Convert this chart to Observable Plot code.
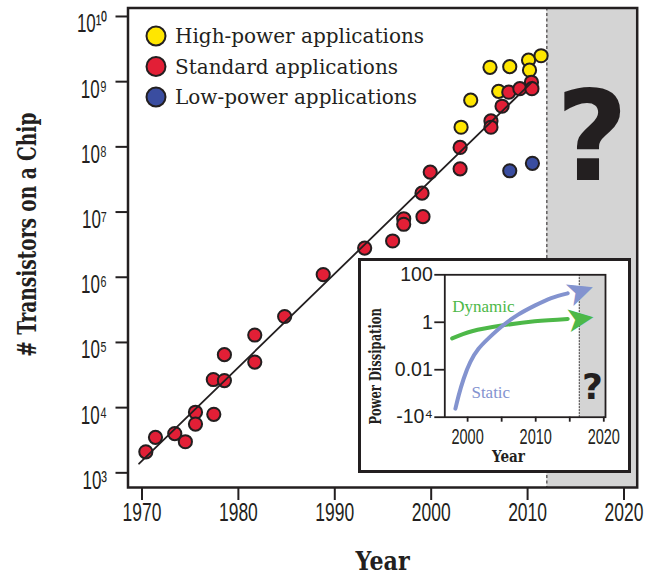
<!DOCTYPE html>
<html><head><meta charset="utf-8">
<script src="https://cdn.jsdelivr.net/npm/d3@7"></script>
<script src="https://cdn.jsdelivr.net/npm/@observablehq/plot@0.6"></script>
<style>
body{margin:0;background:#fff;}
#wrap{position:relative;width:647px;height:578px;overflow:hidden;}
#inset{position:absolute;left:358px;top:258px;width:267px;height:209px;border:3px solid #231F20;background:#fff;}
</style></head><body>
<div id="wrap"><div id="main"></div><div id="inset"></div></div>
<script>
// ---------- main chart data ----------
const highYears  = [2003.1, 2004.1, 2006.1, 2007.0, 2008.15, 2010.1, 2010.2, 2011.4];
const highCounts = [2.0e8, 5.2e8, 1.66e9, 7.1e8, 1.7e9, 2.14e9, 1.5e9, 2.5e9];

const stdYears  = [1970.4, 1971.4, 1973.4, 1974.5, 1975.55, 1975.55, 1977.45, 1977.4, 1978.55, 1978.55,
                   1981.7, 1981.7, 1984.8, 1988.8, 1993.1, 1996.0, 1997.15, 1997.15, 1999.15, 1999.05,
                   1999.9, 2003.0, 2003.0, 2006.2, 2006.2, 2007.35, 2008.05, 2009.2, 2010.4, 2010.45];
const stdCounts = [2.1e3, 3.5e3, 4.0e3, 3.0e3, 8.5e3, 5.6e3, 7.9e3, 2.7e4, 2.6e4, 6.5e4,
                   1.3e5, 5.0e4, 2.5e5, 1.1e6, 2.8e6, 3.6e6, 7.9e6, 6.5e6, 8.5e6, 1.95e7,
                   4.1e7, 9.8e7, 4.6e7, 2.5e8, 2.0e8, 4.2e8, 6.9e8, 7.8e8, 9.8e8, 7.8e8];

const lowYears  = [2008.15, 2010.5];
const lowCounts = [4.3e7, 5.6e7];

const trendYears  = [1969.7, 2010.5];
const trendCounts = [1.38e3, 1.0e9];

const seriesNames = ["High-power applications", "Standard applications", "Low-power applications"];
const seriesColors = ["#FFE600", "#E21F36", "#3A4DA0"];

const xTickValues = [1970, 1980, 1990, 2000, 2010, 2020];
const yTickValues = [1e3, 1e4, 1e5, 1e6, 1e7, 1e8, 1e9, 1e10];
const yTickLabels = ["10³", "10⁴", "10⁵", "10⁶", "10⁷", "10⁸", "10⁹", "10¹⁰"];
const xLabel = "Year";
const yLabel = "# Transistors on a Chip";
const futureStart = 2012;
const xDomain = [1968.55, 2021.37];
const yDomain = [Math.pow(10, 2.775), Math.pow(10, 10.13)];

// ---------- inset data ----------
const dynamicName = "Dynamic";
const dynamicYears = [1997.73, 2000.64, 2005.0, 2009.85, 2014.7];
const dynamicPower = [1.66, 1.81, 1.93, 2.02, 2.07];   // position on inset axis (0 = -10^4 ... 3 = 100)
const staticName = "Static";
const staticYears = [1998.21, 1998.69, 1999.42, 2000.39, 2001.6, 2003.06, 2005.0, 2007.42, 2009.85, 2012.28, 2014.7];
const staticPower = [0.18, 0.46, 0.81, 1.16, 1.44, 1.66, 1.91, 2.16, 2.35, 2.51, 2.61];
const insetXTicks = [2000, 2005, 2010, 2015, 2020];
const insetXTickLabels = ["2000", "", "2010", "", "2020"];
const insetYTicks = [0, 1, 2, 3];
const insetYTickLabels = ["-10⁴", "0.01", "1", "100"];
const insetXLabel = "Year";
const insetYLabel = "Power Dissipation";
const insetFutureStart = 2016.4;
const insetXDomain = [1996.65, 2020.25];
const insetYDomain = [0, 3];

const ink = "#231F20";
const grey = "#D4D4D4";
const green = "#4DB848";
const lavender = "#8393CF";

const zip = (xs, ys, kx, ky) => xs.map((v, i) => ({[kx]: v, [ky]: ys[i]}));
const high = zip(highYears, highCounts, "year", "count");
const std = zip(stdYears, stdCounts, "year", "count");
const low = zip(lowYears, lowCounts, "year", "count");
const trend = zip(trendYears, trendCounts, "year", "count");

function squeeze(nodes, sx) {
  nodes.forEach(t => {
    const tr = t.getAttribute("transform");
    if (tr) t.setAttribute("transform", tr + ` scale(${sx},1)`);
    else {
      const x = +t.getAttribute("x") || 0, y = +t.getAttribute("y") || 0;
      t.removeAttribute("x"); t.removeAttribute("y");
      t.setAttribute("transform", `translate(${x},${y}) scale(${sx},1)`);
    }
  });
}
function textsMatching(svg, fn) {
  return Array.from(svg.querySelectorAll("text")).filter(t => fn(t.textContent));
}

const dotStyle = {x: "year", y: "count", r: 6.6, stroke: ink, strokeWidth: 2};

const main = Plot.plot({
  width: 647, height: 578,
  marginLeft: 127.5, marginRight: 10.3, marginTop: 7.5, marginBottom: 91,
  style: {fontFamily: "Liberation Sans, Arial, sans-serif", color: ink, background: "white"},
  x: {domain: xDomain, label: null},
  y: {type: "log", domain: yDomain, label: null},
  marks: [
    Plot.rect([futureStart], {x1: d => d, x2: xDomain[1], fill: grey}),
    Plot.ruleX([futureStart], {stroke: ink, strokeWidth: 1, strokeDasharray: "3,2.5"}),
    Plot.frame({stroke: ink, strokeWidth: 2.5}),
    Plot.axisX({ticks: xTickValues, tickFormat: d => String(d), tickSize: 13, tickPadding: 3, fontSize: 25, strokeWidth: 2, label: null}),
    Plot.axisY({ticks: yTickValues, tickFormat: () => "", tickSize: 12, strokeWidth: 2, label: null}),
    Plot.axisY({ticks: yTickValues, tickFormat: d => yTickLabels[yTickValues.indexOf(d)], tickSize: 0, tickPadding: 21, dy: 8, fontSize: 25, label: null}),
    Plot.dot(high, {...dotStyle, fill: seriesColors[0]}),
    Plot.dot(std, {...dotStyle, fill: seriesColors[1]}),
    Plot.dot(low, {...dotStyle, fill: seriesColors[2]}),
    Plot.line(trend, {x: "year", y: "count", stroke: ink, strokeWidth: 1.8}),
    Plot.text(["?"], {x: (futureStart + xDomain[1]) / 2, frameAnchor: "top", dy: 132, text: d => d,
      textAnchor: "middle", lineAnchor: "middle", fontSize: 125, fontWeight: "bold", fontFamily: "DejaVu Sans", fill: ink}),
    Plot.text([yLabel], {frameAnchor: "left", dx: -100.5, dy: -13, rotate: -90, text: d => d, textAnchor: "middle", lineAnchor: "middle",
      fontSize: 26.5, fontWeight: "bold", fontFamily: "DejaVu Serif", fill: ink}),
    Plot.text([xLabel], {frameAnchor: "bottom", dy: 74, text: d => d, textAnchor: "middle", lineAnchor: "middle",
      fontSize: 25.5, fontWeight: "bold", fontFamily: "DejaVu Serif", fill: ink})
  ]
});
document.getElementById("main").appendChild(main);

squeeze(textsMatching(main, s => /^\d{4}$/.test(s)), 0.7);
squeeze(textsMatching(main, s => /^10/.test(s)), 0.68);
squeeze(textsMatching(main, s => s === yLabel), 0.7);
squeeze(textsMatching(main, s => s === xLabel), 0.87);

// legend
const lg = d3.select(main).append("g").attr("text-anchor", "start");
seriesNames.forEach((name, i) => {
  const cy = 36 + i * 30.5;
  lg.append("circle").attr("cx", 156).attr("cy", cy).attr("r", 9.5)
    .attr("fill", seriesColors[i]).attr("stroke", ink).attr("stroke-width", 2);
  lg.append("text").attr("x", 175).attr("y", cy).attr("dy", "0.35em").attr("text-anchor", "start")
    .attr("font-family", "DejaVu Serif").attr("font-size", 20).attr("fill", ink).text(name);
});

// ---------- inset ----------
const dyn = zip(dynamicYears, dynamicPower, "year", "level");
const sta = zip(staticYears, staticPower, "year", "level");
const dynHead = [{year: 2016.5, level: 2.07, angle: -8}];
const staHead = [{year: 2016.5, level: 2.65, angle: -19}];

const inset = Plot.plot({
  width: 267, height: 209,
  marginLeft: 83.3, marginRight: 23, marginTop: 13.3, marginBottom: 53.3,
  style: {fontFamily: "Liberation Sans, Arial, sans-serif", color: ink, background: "white"},
  x: {domain: insetXDomain, label: null},
  y: {domain: insetYDomain, label: null},
  marks: [
    Plot.rect([insetFutureStart], {x1: d => d, x2: insetXDomain[1], fill: grey}),
    Plot.ruleX([insetFutureStart], {stroke: ink, strokeWidth: 1, strokeDasharray: "1.5,1.5"}),
    Plot.frame({stroke: ink, strokeWidth: 1.8}),
    Plot.axisX({ticks: insetXTicks, tickFormat: d => insetXTickLabels[insetXTicks.indexOf(d)], tickSize: 5, tickPadding: 6.5, fontSize: 22, strokeWidth: 1.8, label: null}),
    Plot.axisY({ticks: insetYTicks, tickFormat: d => insetYTickLabels[d], tickSize: 10, tickPadding: 2, fontSize: 19.5, strokeWidth: 1.8, label: null}),
    Plot.line(dyn, {x: "year", y: "level", curve: "natural", stroke: green, strokeWidth: 4}),
    Plot.line(sta, {x: "year", y: "level", curve: "natural", stroke: lavender, strokeWidth: 4}),
    Plot.text(dynHead, {x: "year", y: "level", rotate: "angle", text: () => "➤", fontSize: 36, fontFamily: "DejaVu Sans", fill: green}),
    Plot.text(staHead, {x: "year", y: "level", rotate: "angle", text: () => "➤", fontSize: 36, fontFamily: "DejaVu Sans", fill: lavender}),
    Plot.text([dynamicName], {x: dynamicYears[0], y: dynamicPower[0], dy: -32, text: d => d, textAnchor: "start",
      fontSize: 17, fontFamily: "Liberation Serif", fill: green}),
    Plot.text([staticName], {x: staticYears[0], y: staticPower[0], dx: 16, dy: -16, text: d => d, textAnchor: "start",
      fontSize: 17, fontFamily: "Liberation Serif", fill: lavender}),
    Plot.text(["?"], {x: (insetFutureStart + insetXDomain[1]) / 2, frameAnchor: "bottom", dy: -30, text: d => d,
      textAnchor: "middle", lineAnchor: "middle", fontSize: 36, fontWeight: "bold", fontFamily: "DejaVu Sans", fill: ink}),
    Plot.text([insetYLabel], {frameAnchor: "left", dx: -68.6, dy: 20.3, rotate: -90, text: d => d, textAnchor: "middle", lineAnchor: "middle",
      fontSize: 16, fontWeight: "bold", fontFamily: "DejaVu Serif", fill: ink}),
    Plot.text([insetXLabel], {frameAnchor: "bottom", dx: -16.7, dy: 40, text: d => d, textAnchor: "middle", lineAnchor: "middle",
      fontSize: 16, fontWeight: "bold", fontFamily: "DejaVu Serif", fill: ink})
  ]
});
document.getElementById("inset").appendChild(inset);
squeeze(textsMatching(inset, s => /^\d{4}$/.test(s)), 0.66);
squeeze(textsMatching(inset, s => s === insetYLabel), 0.72);
squeeze(textsMatching(inset, s => s === insetXLabel), 0.85);
</script>
</body></html>
